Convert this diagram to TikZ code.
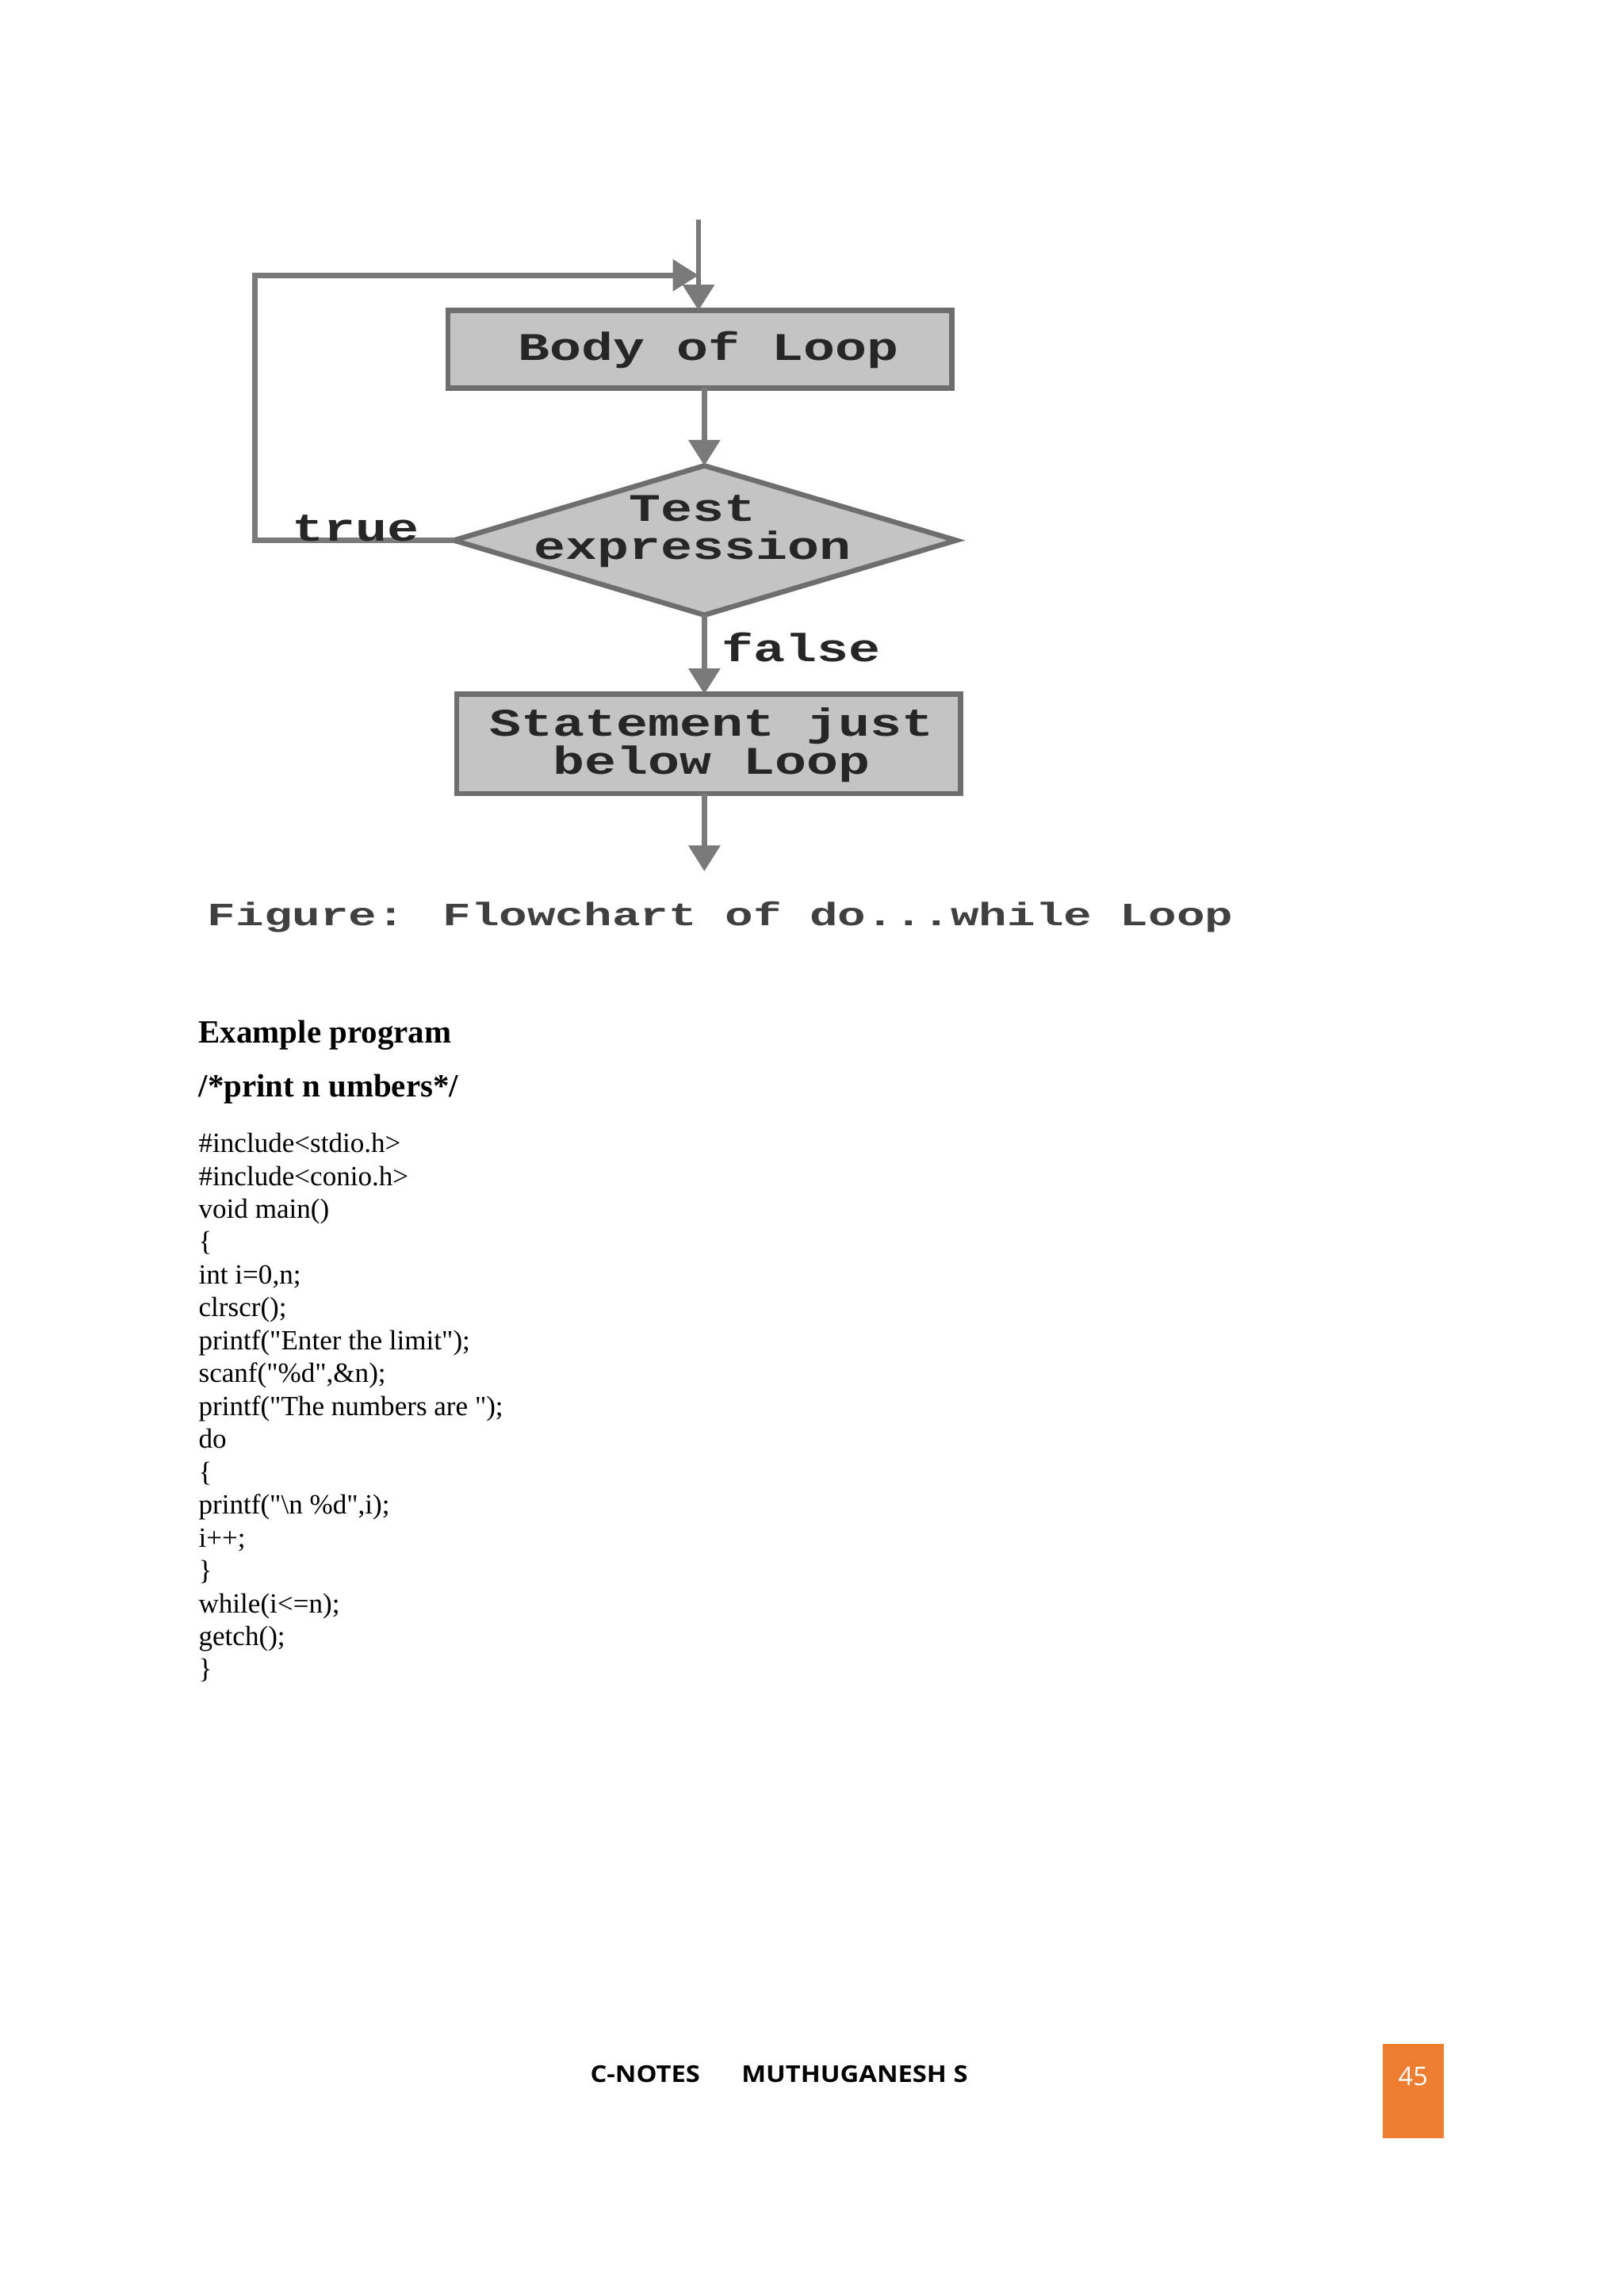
\documentclass[tikz,border=0pt]{standalone}
\usepackage{fontspec}
\setmainfont[Mapping=]{Liberation Serif}
\newfontfamily\monob{Liberation Mono}
\newfontfamily\footf{Open Sans}
\usetikzlibrary{arrows.meta,shapes.geometric}
\definecolor{boxfill}{HTML}{C4C4C4}
\definecolor{boxline}{HTML}{6E6E6E}
\definecolor{arr}{HTML}{7A7A7A}
\definecolor{orng}{HTML}{ED7D31}
\newcommand{\qq}{\char34 }
\begin{document}
\begin{tikzpicture}[x=0.01cm,y=-0.01cm,
  fbox/.style={draw=boxline,line width=1pt,fill=boxfill},
  ftext/.style={font=\monob\bfseries\fontsize{7.6}{7.4}\selectfont,align=center,text=black!85,xscale=1.35},
  con/.style={draw=arr,line width=1pt,-{Triangle[length=5pt,width=6pt]}},
  code/.style={anchor=base west,inner sep=0pt,font=\fontsize{5.4}{6}\selectfont}]
\useasboundingbox[fill=white] (0,0) rectangle (1108,1568);
% flowchart
\path[fbox] (306,212) coordinate (b1nw) rectangle (650,265);
\node[ftext] (b1t) at (484,239) {Body of Loop};
\coordinate (top) at (477,150);
\coordinate (b1top) at (477,212);
\coordinate (b1bot) at (481,265);
\path[fbox] (310,369) -- (481,318) -- (653,369) -- (481,420) -- cycle;
\node[ftext] (dt) at (473,363) {Test\\expression};
\coordinate (dtop) at (481,318);
\coordinate (dbot) at (481,420);
\coordinate (dleft) at (310,369);
\path[fbox] (312,474) rectangle (656,542);
\node[ftext] (b2t) at (486,509) {Statement just\\below Loop};
\coordinate (b2top) at (481,474);
\coordinate (b2bot) at (481,542);
\coordinate (endp) at (481,595);
\draw[con] (top) -- (b1top);
\draw[con] (b1bot) -- (dtop);
\draw[con] (dbot) -- (b2top);
\draw[con] (b2bot) -- (endp);
\draw[con] (dleft) -- (174,369) -- (174,188) -- (477,188);
\node[ftext] (tr) at (243,361) {true};
\node[ftext] (fa) at (547,442) {false};
\node[font=\monob\bfseries\fontsize{6.3}{8}\selectfont,text=black!75,xscale=1.45] (cap) at (492,626) {Figure: Flowchart of do...while Loop};
% text
\node[code,font=\bfseries\fontsize{6.3}{7}\selectfont] (ex) at (135,712) {Example program};
\node[code,font=\bfseries\fontsize{6.3}{7}\selectfont] (cm) at (135,749) {/*print n umbers*/};
\foreach \t [count=\i from 0] in {\#include<stdio.h>,\#include<conio.h>,void main(),\{,{int i=0,n;},clrscr();,printf(\qq Enter the limit\qq);,{scanf(\qq\%d\qq,\&n);},printf(\qq The numbers are \qq);,do,\{,{printf(\qq\textbackslash n \%d\qq,i);},i++;,\},while(i<=n);,getch();,\}}{
  \node[code] (l\i) at (135,{787+\i*22.45}) {\t};
}
% footer
\node[font=\footf\bfseries\fontsize{4.5}{5}\selectfont,anchor=base,xscale=1.12] (ft) at (532,1422) {C-NOTES\hspace{1.6em}MUTHUGANESH S};
\path[fill=orng] (944,1396) rectangle (986,1460);
\node[font=\footf\fontsize{5}{6}\selectfont,text=white] (pg) at (965,1418) {45};
\end{tikzpicture}
\end{document}
